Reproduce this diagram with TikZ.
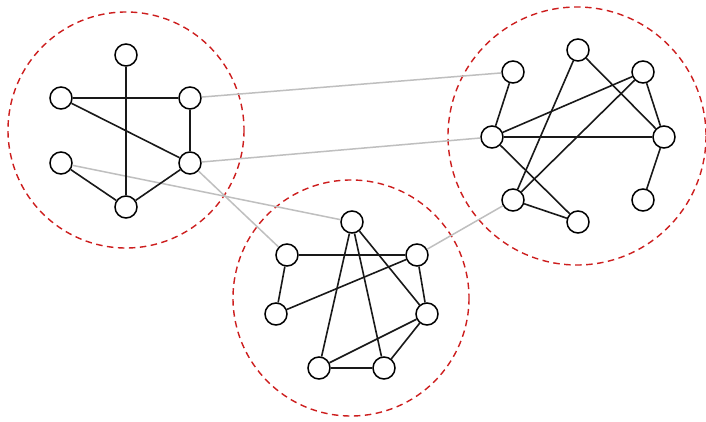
\documentclass[tikz,border=0pt]{standalone}
\begin{document}
\begin{tikzpicture}[x=1pt,y=-1pt,
  vtx/.style={circle,draw=black,line width=1.5pt,fill=white,minimum size=22pt,inner sep=0pt},
  edge/.style={draw=black!90,line width=1.6pt},
  link/.style={draw=black!25,line width=1.5pt},
  cluster/.style={draw={rgb,255:red,205;green,30;blue,30},line width=1.4pt,dash pattern=on 6.5pt off 4.5pt}]
\useasboundingbox (0,0) rectangle (706,422);
\fill[white] (0,0) rectangle (706,422);
% clusters
\draw[cluster] (126,130) circle (118);
\draw[cluster] (577,136) circle (129);
\draw[cluster] (351,298) circle (118);
% coordinates for nodes
\path (126,55) coordinate (pa1) (61,98) coordinate (pa2) (190,98) coordinate (pa3)
      (61,163) coordinate (pa4) (190,163) coordinate (pa5) (126,207) coordinate (pa6);
\path (513,72) coordinate (pb1) (578,50) coordinate (pb2) (643,72) coordinate (pb3)
      (492,137) coordinate (pb4) (664,137) coordinate (pb5) (513,200) coordinate (pb6)
      (643,200) coordinate (pb7) (578,222) coordinate (pb8);
\path (352,222) coordinate (pc1) (287,255) coordinate (pc2) (417,255) coordinate (pc3)
      (276,314) coordinate (pc4) (427,314) coordinate (pc5) (319,368) coordinate (pc6)
      (384,368) coordinate (pc7);
% nodes
\foreach \n in {a1,a2,a3,a4,a5,a6,b1,b2,b3,b4,b5,b6,b7,b8,c1,c2,c3,c4,c5,c6,c7}
  \node[vtx] (\n) at (p\n) {};
% gray links between clusters
\foreach \u/\v in {a3/b1,a5/b4,a4/c1,a5/c2,c3/b6}
  \draw[link] (\u) -- (\v);
% edges
\foreach \u/\v in {a1/a6,a2/a3,a2/a5,a3/a5,a4/a6,a5/a6,
  b1/b4,b2/b6,b2/b5,b3/b4,b3/b6,b3/b5,b4/b5,b4/b8,b6/b8,b5/b7,
  c2/c3,c2/c4,c4/c3,c1/c6,c1/c7,c1/c5,c3/c5,c6/c7,c6/c5,c7/c5}
  \draw[edge] (\u) -- (\v);
\end{tikzpicture}
\end{document}
